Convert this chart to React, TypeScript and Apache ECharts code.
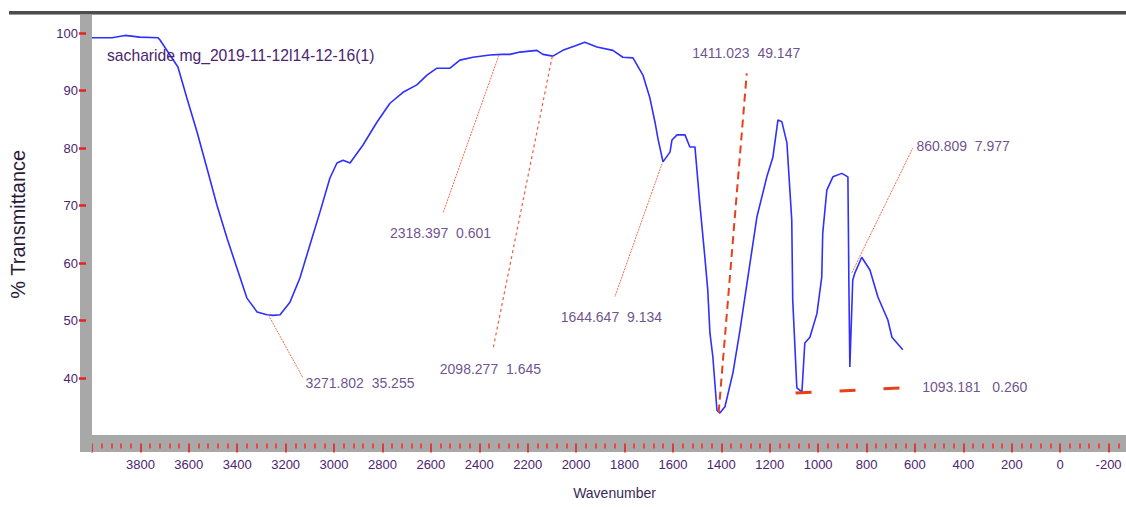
import React, { useEffect, useRef } from "react";
import * as echarts from "echarts";

// Spectrum trace (wavenumber in cm-1, % transmittance)
const wavenumbers = [
  4000, 3917, 3864, 3802, 3727, 3719, 3645, 3608, 3566, 3525, 3484, 3442, 3401, 3360,
  3318, 3277, 3252, 3223, 3182, 3141, 3100, 3058, 3017, 2988, 2963, 2934, 2881, 2823,
  2769, 2715, 2658, 2616, 2575, 2521, 2480, 2426, 2356, 2306, 2273, 2232, 2162, 2137,
  2096, 2055, 1997, 1964, 1914, 1848, 1807, 1765, 1724, 1695, 1674, 1662, 1641, 1612,
  1604, 1583, 1550, 1530, 1509, 1489, 1468, 1456, 1447, 1435, 1418, 1406, 1385, 1352,
  1323, 1290, 1253, 1212, 1187, 1166, 1150, 1129, 1109, 1105, 1088, 1067, 1055, 1034,
  1005, 985, 981, 964, 939, 902, 877, 873, 869, 857, 848, 820, 786, 753, 712, 695, 650,
];
const transmittance = [
  99.2, 99.2, 99.6, 99.3, 99.2, 98.8, 94.1, 88.7, 82.8, 76.5, 70.1, 64.3, 59.1, 53.9,
  51.5, 51.0, 50.9, 51.0, 53.2, 57.4, 63.1, 68.9, 74.8, 77.4, 77.9, 77.4, 80.5, 84.5,
  87.8, 89.7, 91.0, 92.7, 93.9, 93.9, 95.3, 95.8, 96.2, 96.3, 96.3, 96.7, 97.0, 96.3,
  96.0, 97.0, 97.9, 98.4, 97.6, 97.0, 95.8, 95.7, 92.7, 88.7, 84.5, 81.7, 77.6, 79.3,
  81.4, 82.3, 82.3, 80.2, 80.2, 70.4, 61.0, 55.3, 47.8, 43.7, 34.4, 33.9, 35.0, 40.9,
  48.3, 57.6, 68.0, 75.0, 78.4, 84.9, 84.6, 80.9, 67.5, 53.6, 38.3, 37.6, 46.1, 47.1,
  51.2, 57.6, 65.2, 72.7, 75.0, 75.6, 75.0, 56.5, 41.9, 57.0, 58.3, 61.0, 58.8, 54.1,
  50.1, 47.1, 44.9,
];

// Peak annotations
const peakLabels = [
  "3271.802  35.255",
  "2318.397  0.601",
  "2098.277  1.645",
  "1644.647  9.134",
  "1411.023  49.147",
  "860.809  7.977",
  "1093.181   0.260",
];
const peakWavenumbers = [3271.8, 2318.4, 2098.3, 1644.6, 1411.0, 860.8, 1093.2];
const peakTransmittance = [51.0, 96.2, 96.0, 77.3, 34.0, 58.3, 37.4];
const leaderEndWavenumbers = [3128, 2550, 2344, 1840, 1295, 609, 588];
const leaderEndTransmittance = [40.0, 68.7, 44.9, 54.1, 93.0, 80.0, 38.4];
const labelWavenumbers = [3116, 2558, 2352, 1852, 1295, 592, 568];
const labelTransmittance = [39.1, 65.2, 41.4, 50.6, 96.5, 80.2, 38.4];
const labelAligns = ["left", "center", "center", "center", "center", "left", "left"];
const leaderKinds = ["thin", "thin", "dash", "thin", "red", "thin", "bold"];

const titleText = "sacharide mg_2019-11-12l14-12-16(1)";
const xName = "Wavenumber";
const yName = "% Transmittance";

const SANS = "'Liberation Sans', Arial, sans-serif";
const TEXT = "#4a2470";
const GRAY = "#a8a8a8";
const RED = "#e82020";

function leaderStyle(kind: string) {
  if (kind === "red") return { color: "#e8401a", width: 2, type: [8, 5] as any, opacity: 1 };
  if (kind === "bold") return { color: "#e8401a", width: 3, type: [16, 28] as any, opacity: 1 };
  if (kind === "dash") return { color: "#f06040", width: 1.2, type: [3, 3] as any, opacity: 1 };
  return { color: "#f07050", width: 1, type: [2, 1] as any, opacity: 1 };
}

export default function App() {
  const ref = useRef<HTMLDivElement>(null);
  useEffect(() => {
    if (!ref.current) return;
    const chart = echarts.init(ref.current, null, { renderer: "svg" });
    const lineData = wavenumbers.map((w, i) => [w, transmittance[i]]);
    chart.setOption({
      animation: false,
      backgroundColor: "#ffffff",
      title: {
        text: titleText,
        left: 107,
        top: 47,
        padding: 0,
        textStyle: { fontFamily: SANS, fontSize: 15.7, fontWeight: "normal", color: TEXT },
      },
      grid: {
        left: 92,
        top: 13,
        width: 1065,
        height: 422.5,
        containLabel: false,
        outerBoundsMode: "none",
      },
      xAxis: {
        type: "value",
        inverse: true,
        min: -400,
        max: 4000,
        interval: 200,
        offset: 8,
        name: xName,
        nameLocation: "middle",
        nameGap: 42,
        nameTextStyle: { fontFamily: SANS, fontSize: 14, color: "#3a2a5a", padding: [0, 20, 0, 0] },
        axisLine: { show: true, onZero: false, lineStyle: { color: GRAY, width: 17, cap: "butt" } },
        axisTick: { show: true, inside: false, length: 9, lineStyle: { color: RED, width: 1.6 } },
        minorTick: { show: true, splitNumber: 5, length: 5, lineStyle: { color: "#ff2a2a", width: 1.6 } },
        axisLabel: {
          margin: 14,
          showMaxLabel: false,
          showMinLabel: false,
          formatter: (v: number) => String(v),
          fontFamily: SANS,
          fontSize: 13,
          color: TEXT,
        },
        splitLine: { show: false },
      },
      yAxis: {
        type: "value",
        min: 30,
        max: 103.5,
        interval: 10,
        offset: 6,
        name: yName,
        nameLocation: "middle",
        nameRotate: 90,
        nameGap: 58,
        nameTextStyle: { fontFamily: SANS, fontSize: 20, color: "#2a1a3a" },
        axisLine: { show: true, onZero: false, lineStyle: { color: GRAY, width: 12, cap: "butt" } },
        axisTick: { show: true, inside: false, length: 7, lineStyle: { color: RED, width: 2.5 } },
        axisLabel: {
          margin: 8,
          showMinLabel: false,
          showMaxLabel: false,
          formatter: (v: number) => String(v),
          fontFamily: SANS,
          fontSize: 13,
          color: TEXT,
        },
        splitLine: { show: false },
      },
      graphic: [
        { type: "rect", left: 80, top: 435, shape: { width: 12, height: 17 }, style: { fill: GRAY }, z: 100 },
        { type: "rect", left: 9, top: 11, shape: { width: 1117, height: 3 }, style: { fill: "#4d4d4d" }, z: 100 },
        { type: "rect", left: 9, top: 14, shape: { width: 1117, height: 1 }, style: { fill: "#9a9a9a" }, z: 100 },
      ],
      series: [
        {
          type: "line",
          data: lineData,
          showSymbol: false,
          symbol: "none",
          lineStyle: { color: "#2f2fff", width: 1.6 },
          z: 3,
          markLine: {
            silent: true,
            symbol: ["none", "none"],
            label: { show: false },
            animation: false,
            data: peakWavenumbers.map((w, i) => [
              { coord: [w, peakTransmittance[i]], lineStyle: leaderStyle(leaderKinds[i]) },
              { coord: [leaderEndWavenumbers[i], leaderEndTransmittance[i]] },
            ]),
          },
        },
        {
          type: "scatter",
          silent: true,
          symbol: "circle",
          symbolSize: 1,
          itemStyle: { color: "rgba(0,0,0,0)" },
          data: labelWavenumbers.map((w, i) => ({
            value: [w, labelTransmittance[i]],
            label: { align: labelAligns[i] },
          })),
          label: {
            show: true,
            position: [0, 0],
            verticalAlign: "middle",
            formatter: (p: any) => peakLabels[p.dataIndex],
            fontFamily: SANS,
            fontSize: 14,
            color: TEXT,
          },
          z: 4,
        },
      ],
    });
    return () => chart.dispose();
  }, []);
  return (
    <div
      ref={ref}
      style={{ position: "fixed", left: 0, top: 0, width: 1126, height: 510, background: "#fff" }}
    />
  );
}
